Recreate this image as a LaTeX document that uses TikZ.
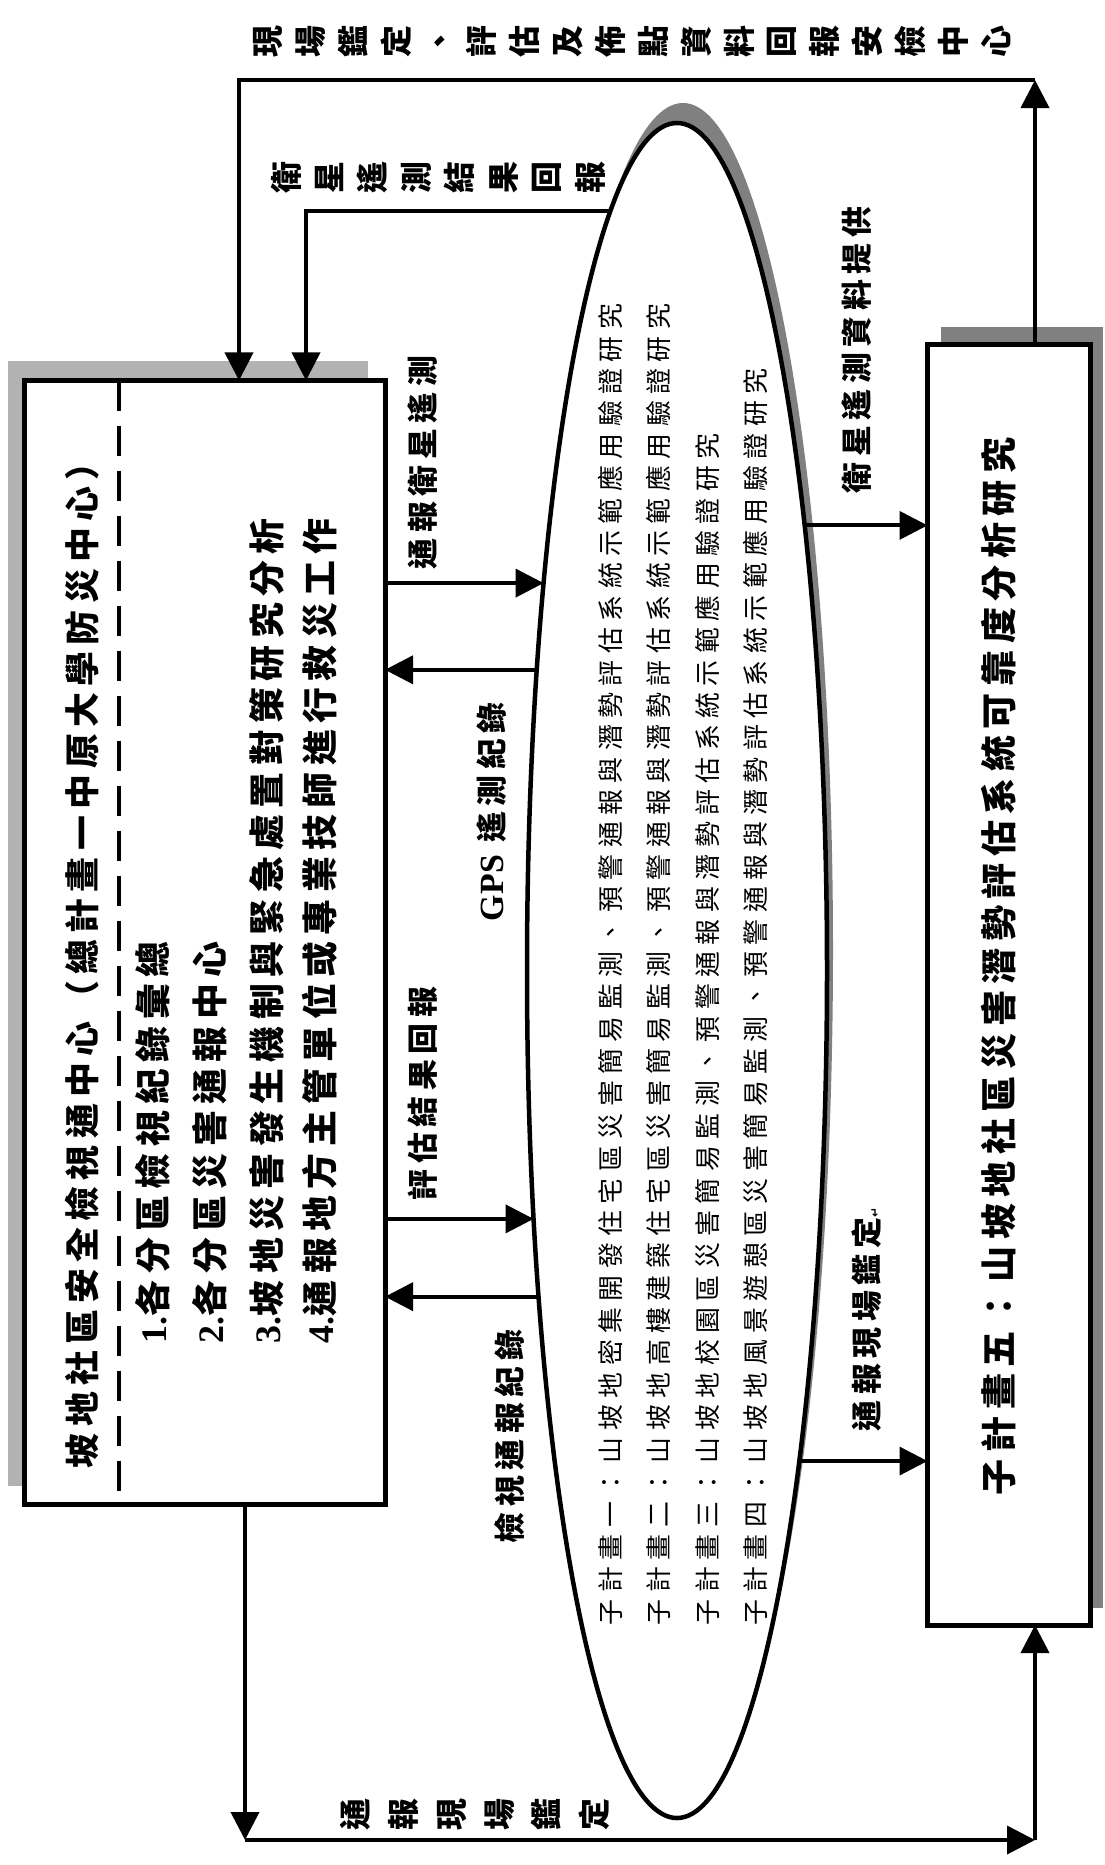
\documentclass[tikz,border=0pt]{standalone}
\usepackage{fontspec}
\setmainfont{Liberation Serif}
\newfontfamily\cjk[LetterSpace=18]{Noto Sans CJK TC}
\newfontfamily\cjkw[LetterSpace=25]{Noto Sans CJK TC}
\newfontfamily\symf{DejaVu Sans}
\definecolor{ShadeDark}{RGB}{128,128,128}
\definecolor{ShadeLight}{RGB}{178,178,178}
\usetikzlibrary{arrows.meta,shapes.geometric,calc}

\begin{document}
\begin{tikzpicture}[x=1bp,y=-1bp,line width=4bp,
  >={Triangle[length=28bp,width=28bp]},
  mainbox/.style={draw,line width=5bp,fill=white,inner sep=0pt,outer sep=0pt},
  rot/.style={rotate=90,inner sep=0pt,anchor=west},
  big/.style={font=\cjk\bfseries\fontsize{35}{40}\selectfont},
  item/.style={font=\cjk\bfseries\fontsize{36}{40}\selectfont},
  lab/.style={font=\cjk\bfseries\fontsize{31}{36}\selectfont},
  subtext/.style={font=\cjkw\fontsize{26}{30}\selectfont},
  stack/.style={rotate=90,align=center,inner sep=0pt}]
\useasboundingbox (0,0) rectangle (1104,1865);

% boxes and ellipse
\node[mainbox,minimum width=360bp,minimum height=1124bp,
  preaction={fill=ShadeLight,transform canvas={xshift=-17bp,yshift=19bp}}] (lbox) at (205,942.5) {};
\node[mainbox,minimum width=162.5bp,minimum height=1280.5bp,
  preaction={fill=ShadeDark,transform canvas={xshift=13bp,yshift=17bp}}] (rbox) at (1008.75,984.75) {};
\node[ellipse,draw,line width=4.5bp,fill=white,inner sep=0pt,outer sep=0pt,
  minimum width=300bp,minimum height=1695bp,
  preaction={fill=ShadeDark,transform canvas={xshift=6bp,yshift=20bp}}] (ell) at (677,970.5) {};

\coordinate (dv) at (119,380.5);
\draw[dash pattern=on 30bp off 15bp] (dv) -- (dv |- lbox.south);

% texts
\node[rot,big] (title) at (82,1470) {坡地社區安全檢視通中心（總計畫一中原大學防災中心）};
\foreach \k/\lab/\x in {1/各分區檢視紀錄彙總/153, 2/各分區災害通報中心/210,
  3/坡地災害發生機制與緊急處置對策研究分析/267, 4/通報地方主管單位或專業技師進行救災工作/320}
  \node[rot,item] (item\k) at (\x,1345) {{\rmfamily\bfseries\k.}\lab};
\foreach \k/\lab/\x in {一/山坡地密集開發住宅區/610, 二/山坡地高樓建築住宅區/658,
  三/山坡地校園區/707, 四/山坡地風景遊憩區/755}
  \node[rot,subtext] (plan\x) at (\x,1627) {子計畫\k{}：\lab{}災害簡易監測、預警通報與潛勢評估系統示範應用驗證研究};
\node[rot,font=\cjk\bfseries\fontsize{36.2}{42}\selectfont] (plan5) at (999,1497) {子計畫五：山坡地社區災害潛勢評估系統可靠度分析研究};

\node[rot,lab] (satrep) at (423,571) {通報衛星遙測};
\node[rot,lab] (gpsrec) at (492,923) {{\rmfamily\fontsize{34}{36}\selectfont GPS} 遙測紀錄};
\node[rot,lab] (evalrep) at (423,1202) {評估結果回報};
\node[rot,lab] (insprec) at (510,1545) {檢視通報紀錄};
\node[rot,lab] (satdata) at (857,495) {衛星遙測資料提供};
\node[rot,lab] (fieldrep) at (867,1433) {通報現場鑑定{\symf\fontsize{12}{12}\selectfont ↵}};

\node[stack,font=\cjk\bfseries\fontsize{32}{43}\selectfont] (toplab) at (632,42)
  {現\\場\\鑑\\定\\、\\評\\估\\及\\佈\\點\\資\\料\\回\\報\\安\\檢\\中\\心};
\node[stack,font=\cjk\bfseries\fontsize{32}{43.6}\selectfont] (satres) at (438,178)
  {衛\\星\\遙\\測\\結\\果\\回\\報};
\node[stack,font=\cjk\bfseries\fontsize{32}{48}\selectfont] (botlab) at (475,1815)
  {通\\報\\現\\場\\鑑\\定};

% connectors
\coordinate (tr) at (1035,80);
\coordinate (tl) at (239,80);
\coordinate (sr) at (306,223);
\coordinate (bl) at (245,1840);
\coordinate (br) at (1035,1840);
\draw[->] (tr |- rbox.north) -- (tr);
\draw[->] (tr) -- (tl) -- (tl |- lbox.north);
\draw[->] (ell.95.4) -| (sr |- lbox.north);
\draw[->] (lbox.east |- ell.109.5) -- (ell.109.5);
\draw[->] (ell.115.3) -- (lbox.east |- ell.115.3);
\draw[->] (lbox.east |- ell.240.9) -- (ell.240.9);
\draw[->] (ell.247.4) -- (lbox.east |- ell.247.4);
\draw[->] (ell.74.5) -- (rbox.west |- ell.74.5);
\draw[->] (ell.284.2) -- (rbox.west |- ell.284.2);
\draw[->] (bl |- lbox.south) -- (bl);
\draw[->] (bl) -- (br);
\draw[->] (br) -- (br |- rbox.south);
\end{tikzpicture}
\end{document}
